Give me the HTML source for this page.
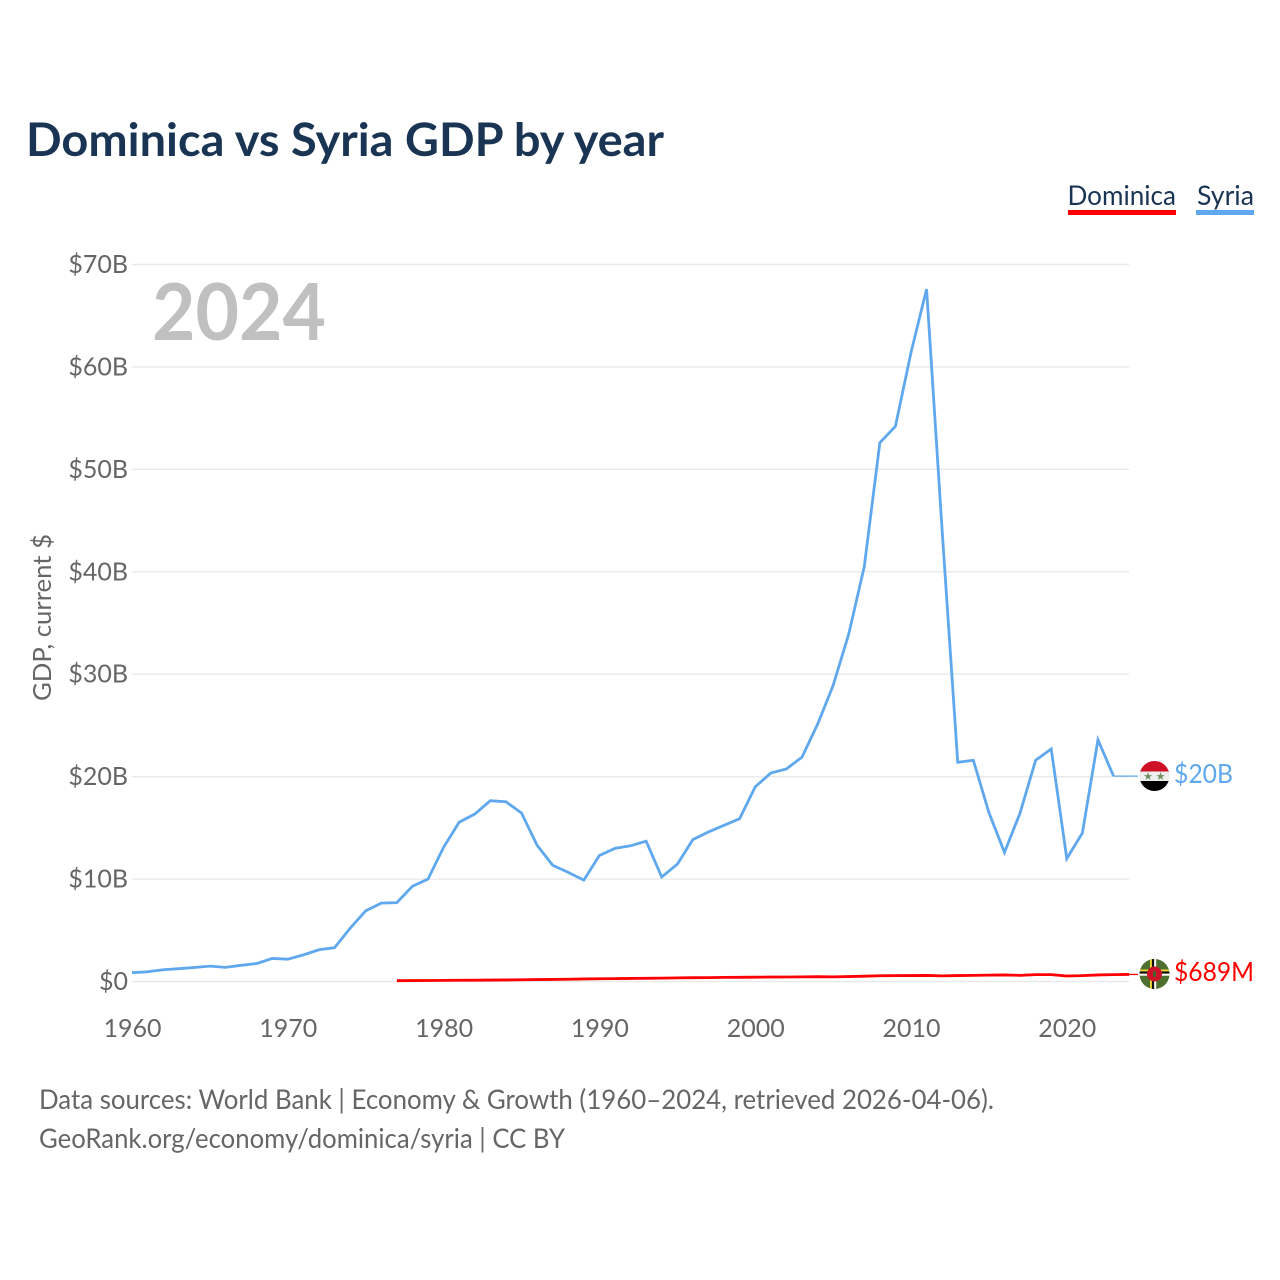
<!DOCTYPE html>
<html lang="en">
<head>
<meta charset="utf-8">
<title>Dominica vs Syria GDP by year</title>
<style>
html,body{margin:0;padding:0;background:#fff;}
svg{display:block;}
text{font-family:"Lato","Carlito","Liberation Sans",sans-serif;}
</style>
</head>
<body>
<svg id="chart" xmlns="http://www.w3.org/2000/svg" width="1280" height="1280" viewBox="0 0 1280 1280">
  <defs>
    <clipPath id="clip-syria"><circle cx="1154.5" cy="776" r="15"/></clipPath>
    <clipPath id="clip-dominica"><circle cx="1154.5" cy="974" r="15"/></clipPath>
  </defs>
  <rect x="0" y="0" width="1280" height="1280" fill="#ffffff"/>
  <text x="26" y="156" font-size="46" font-weight="700" fill="#1a3454" textLength="638" lengthAdjust="spacingAndGlyphs">Dominica vs Syria GDP by year</text>

  <g>
    <g>
      <text x="1067.5" y="205" font-size="27" fill="#1a3454" textLength="108.5" lengthAdjust="spacingAndGlyphs">Dominica</text>
      <rect x="1068" y="210" width="108" height="5" fill="#ff0000"/>
    </g>
    <g>
      <text x="1197" y="205" font-size="27" fill="#1a3454" textLength="57" lengthAdjust="spacingAndGlyphs">Syria</text>
      <rect x="1196" y="210" width="58" height="5" fill="#5fa8ee"/>
    </g>
  </g>

  <g id="grid"></g>
  <g id="yticks"></g>
  <g id="xticks"></g>

  <text transform="translate(51,701) rotate(-90)" font-size="25" fill="#666666" textLength="167" lengthAdjust="spacingAndGlyphs">GDP, current $</text>
  <text x="152" y="340" font-size="79" font-weight="700" fill="#c0c0c0" textLength="174" lengthAdjust="spacingAndGlyphs">2024</text>

  <polyline id="line-syria" fill="none" stroke="#5fa8ee" stroke-width="2.8" stroke-linejoin="miter"/>
  <polyline id="line-dominica" fill="none" stroke="#ff0000" stroke-width="2.8" stroke-linejoin="round"/>
  <line id="leader-syria" stroke="#5fa8ee" stroke-width="1.3"/>
  <line id="leader-dominica" stroke="#ff0000" stroke-width="1.3"/>

  <g clip-path="url(#clip-syria)">
    <rect x="1139" y="761" width="31" height="11" fill="#ce1126"/>
    <rect x="1139" y="771.5" width="31" height="10" fill="#efefef"/>
    <rect x="1139" y="781" width="31" height="11" fill="#000000"/>
    <text x="1148" y="780" font-size="11" text-anchor="middle" fill="#6f8f5f">★</text>
    <text x="1160.5" y="780" font-size="11" text-anchor="middle" fill="#6f8f5f">★</text>
  </g>
  <g clip-path="url(#clip-dominica)">
    <rect x="1139" y="958" width="31" height="32" fill="#4f6f2f"/>
    <rect x="1150" y="958" width="1.8" height="32" fill="#f5d835"/>
    <rect x="1152" y="958" width="2" height="32" fill="#111111"/>
    <rect x="1154.2" y="958" width="2" height="32" fill="#ffffff"/>
    <rect x="1139" y="969.5" width="31" height="1.8" fill="#f5d835"/>
    <rect x="1139" y="971.5" width="31" height="2" fill="#111111"/>
    <rect x="1139" y="973.7" width="31" height="2" fill="#ffffff"/>
    <circle cx="1154.5" cy="974" r="7.5" fill="#ce1126"/>
    <ellipse cx="1154.5" cy="974" rx="1.5" ry="3.5" fill="#3c6a2a"/>
  </g>

  <text id="value-syria" x="1174" y="783" font-size="26" fill="#5fa8ee" textLength="59" lengthAdjust="spacingAndGlyphs"></text>
  <text id="value-dominica" x="1174" y="981" font-size="26" fill="#ff0000" textLength="80" lengthAdjust="spacingAndGlyphs"></text>

  <text x="39" y="1109" font-size="27" fill="#666666" textLength="955" lengthAdjust="spacingAndGlyphs">Data sources: World Bank | Economy &amp; Growth (1960–2024, retrieved 2026-04-06).</text>
  <a>
    <text x="39" y="1148" font-size="27" fill="#666666" textLength="526" lengthAdjust="spacingAndGlyphs">GeoRank.org/economy/dominica/syria | CC BY</text>
  </a>
</svg>
<script>
const yTickValues = [0, 10, 20, 30, 40, 50, 60, 70];
const yTickLabels = ["$0", "$10B", "$20B", "$30B", "$40B", "$50B", "$60B", "$70B"];
const xTickYears = [1960, 1970, 1980, 1990, 2000, 2010, 2020];
const xTickLabels = ["1960", "1970", "1980", "1990", "2000", "2010", "2020"];

const syriaStartYear = 1960;
const syriaGdp = [
  0.86, 0.95, 1.15, 1.25, 1.37, 1.5, 1.38, 1.58, 1.75, 2.25,
  2.18, 2.6, 3.1, 3.3, 5.2, 6.9, 7.65, 7.7, 9.3, 10.0,
  13.1, 15.55, 16.35, 17.65, 17.55, 16.45, 13.3, 11.35, 10.65, 9.9,
  12.3, 13.0, 13.25, 13.7, 10.2, 11.45, 13.85, 14.6, 15.25, 15.9,
  19.0, 20.35, 20.75, 21.9, 25.1, 28.9, 33.9, 40.5, 52.6, 54.2,
  61.4, 67.6, 44.0, 21.4, 21.6, 16.5, 12.6, 16.45, 21.6, 22.7,
  12.0, 14.5, 23.6, 20.05
];
const dominicaStartYear = 1977;
const dominicaGdp = [
  0.08, 0.09, 0.10, 0.11, 0.12, 0.13, 0.14, 0.15, 0.17, 0.19,
  0.20, 0.22, 0.25, 0.27, 0.28, 0.30, 0.31, 0.33, 0.35, 0.37,
  0.38, 0.40, 0.41, 0.42, 0.44, 0.44, 0.45, 0.47, 0.45, 0.48,
  0.52, 0.56, 0.57, 0.58, 0.59, 0.55, 0.58, 0.60, 0.62, 0.64,
  0.60, 0.67, 0.67, 0.54, 0.57, 0.64, 0.67, 0.689
];
const valueLabelSyria = "$20B";
const valueLabelDominica = "$689M";

const xScale = function (year) { return 132 + (year - 1960) * 15.58; };
const yScale = function (v) { return 981.5 - v * 10.243; };
const SVG_NS = "http://www.w3.org/2000/svg";

function makeText(content, x, y, anchor) {
  const t = document.createElementNS(SVG_NS, "text");
  t.setAttribute("x", x);
  t.setAttribute("y", y);
  t.setAttribute("text-anchor", anchor);
  t.setAttribute("font-size", "25");
  t.setAttribute("fill", "#666666");
  t.textContent = content;
  return t;
}

const gridGroup = document.getElementById("grid");
const yGroup = document.getElementById("yticks");
const xGroup = document.getElementById("xticks");

yTickValues.forEach(function (v, i) {
  const y = yScale(v);
  const line = document.createElementNS(SVG_NS, "line");
  
  
  line.setAttribute("x1", 132);
  line.setAttribute("x2", 1129);
  line.setAttribute("y1", y);
  line.setAttribute("y2", y);
  line.setAttribute("stroke", "#e9e9e9");
  line.setAttribute("stroke-width", "1.4");
  gridGroup.appendChild(line);
  const label = makeText(yTickLabels[i], 128, y + 8.5, "end");
  
  
  yGroup.appendChild(label);
});

xTickYears.forEach(function (yr, i) {
  const label = makeText(xTickLabels[i], xScale(yr) + 0.5, 1037, "middle");
  
  
  xGroup.appendChild(label);
});

function toPoints(values, startYear) {
  return values.map(function (v, i) {
    return xScale(startYear + i).toFixed(2) + "," + yScale(v).toFixed(2);
  }).join(" ");
}

document.getElementById("line-syria").setAttribute("points", toPoints(syriaGdp, syriaStartYear));
document.getElementById("line-dominica").setAttribute("points", toPoints(dominicaGdp, dominicaStartYear));

function setLeader(id, values, startYear) {
  const el = document.getElementById(id);
  const lastIndex = values.length - 1;
  const y = yScale(values[lastIndex]);
  el.setAttribute("x1", xScale(startYear + lastIndex));
  el.setAttribute("x2", 1138);
  el.setAttribute("y1", y);
  el.setAttribute("y2", y);
}
setLeader("leader-syria", syriaGdp, syriaStartYear);
setLeader("leader-dominica", dominicaGdp, dominicaStartYear);

document.getElementById("value-syria").textContent = valueLabelSyria;
document.getElementById("value-dominica").textContent = valueLabelDominica;
</script>
</body>
</html>
